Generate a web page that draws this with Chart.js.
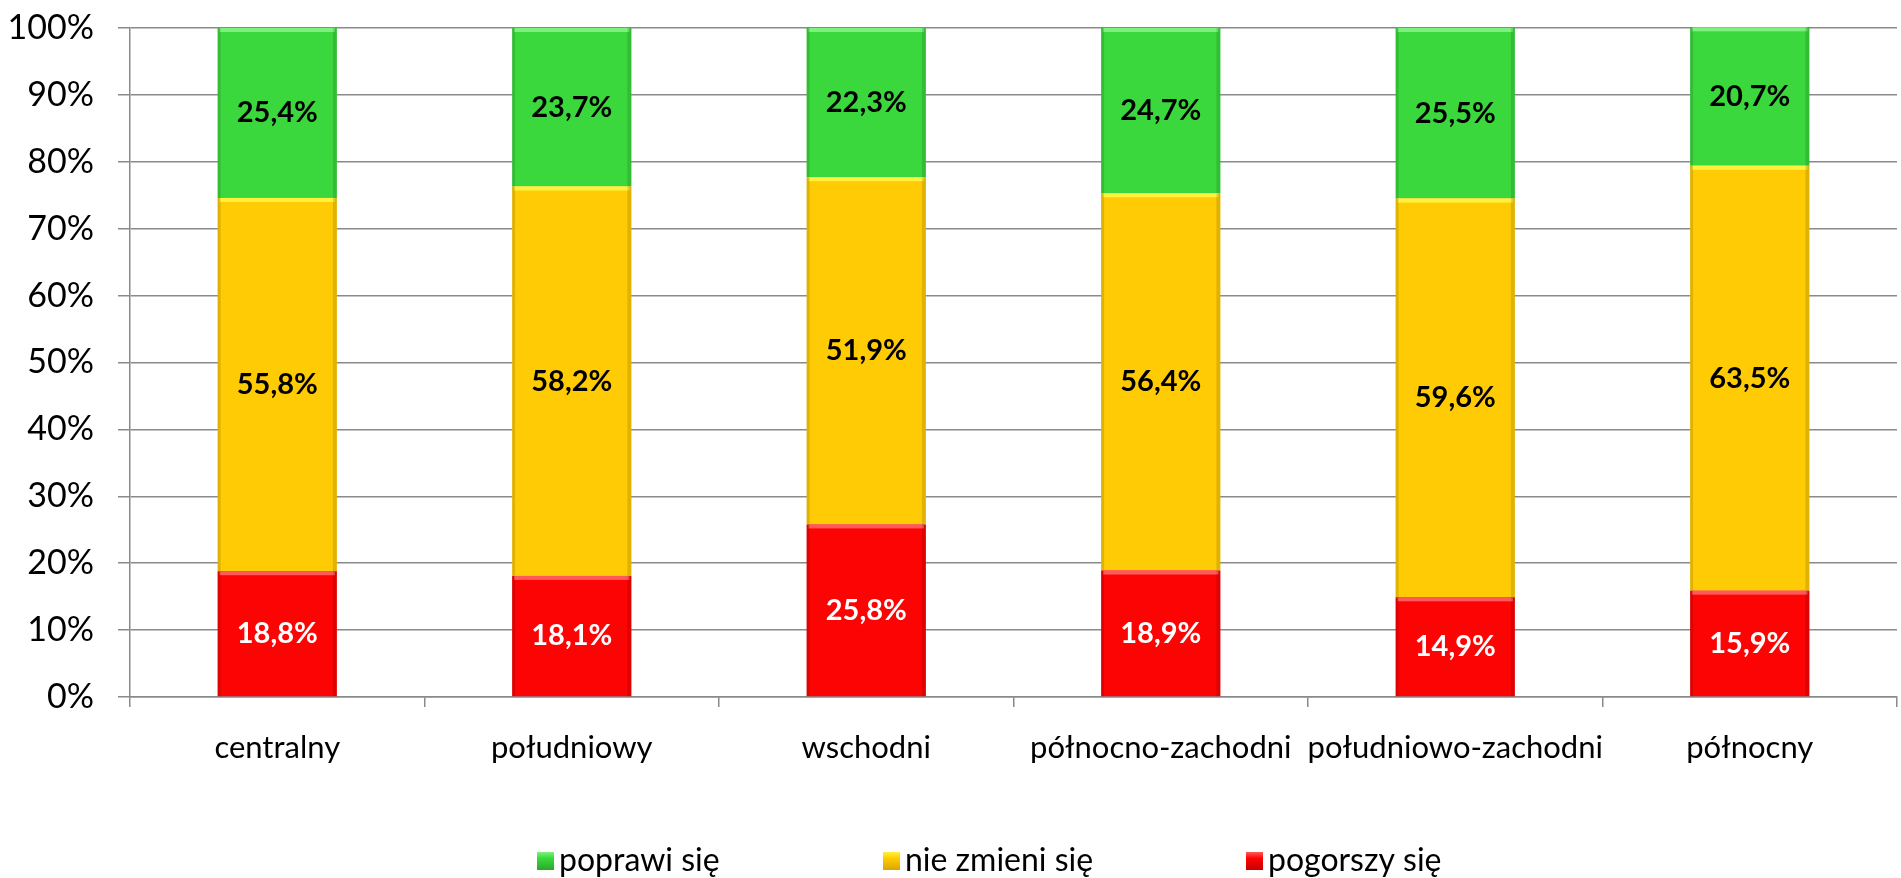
<!DOCTYPE html>
<html>
<head>
<meta charset="utf-8">
<script src="https://cdn.jsdelivr.net/npm/chart.js@4.4.1/dist/chart.umd.min.js"></script>
<style>
  html, body { margin: 0; padding: 0; background: #fff; }
  #wrap { width: 1901px; height: 878px; }
</style>
</head>
<body>
<div id="wrap"><canvas id="chart" width="1901" height="878"></canvas></div>
<script>
// regions and shares (%)
const regions = ['centralny', 'południowy', 'wschodni', 'północno-zachodni', 'południowo-zachodni', 'północny'];
const pogorszy = [18.8, 18.1, 25.8, 18.9, 14.9, 15.9];
const nieZmieni = [55.8, 58.2, 51.9, 56.4, 59.6, 63.5];
const poprawi = [25.4, 23.7, 22.3, 24.7, 25.5, 20.7];
const yTicks = [0, 10, 20, 30, 40, 50, 60, 70, 80, 90, 100];

const FONT = 'Lato, "Open Sans", sans-serif';

// value labels centred in each segment
const segmentLabels = {
    id: 'segmentLabels',
    afterDatasetsDraw(chart) {
        const ctx = chart.ctx;
        ctx.save();
        ctx.font = 'bold 29px ' + FONT;
        ctx.textAlign = 'center';
        ctx.textBaseline = 'middle';
        chart.data.datasets.forEach((ds, i) => {
            const meta = chart.getDatasetMeta(i);
            meta.data.forEach((bar, j) => {
                const y = (bar.y + bar.base) / 2;
                ctx.fillStyle = ds.labelColor;
                ctx.fillText(ds.data[j].toFixed(1).replace('.', ',') + '%', bar.x, y);
            });
        });
        ctx.restore();
    }
};

// legend drawn by hand so the item spacing matches
const legendSlots = [537, 883, 1246];
const bottomLegend = {
    id: 'bottomLegend',
    afterDraw(chart) {
        const ctx = chart.ctx;
        ctx.save();
        ctx.font = '32px ' + FONT;
        ctx.textBaseline = 'middle';
        const y = 861;
        const order = [2, 1, 0];
        order.forEach((i, k) => {
            const ds = chart.data.datasets[i];
            const x = legendSlots[k];
            const g = ctx.createLinearGradient(0, y - 9, 0, y + 9);
            g.addColorStop(0, ds.lightColor);
            g.addColorStop(0.35, ds.backgroundColor);
            g.addColorStop(1, ds.borderColor);
            ctx.fillStyle = g;
            ctx.fillRect(x, y - 9, 17, 18);
            ctx.fillStyle = '#000';
            ctx.fillText(ds.label, x + 22, y);
        });
        ctx.restore();
    }
};

// a little bevel on each bar
const bevel = {
    id: 'bevel',
    afterDatasetsDraw(chart) {
        const ctx = chart.ctx;
        ctx.save();
        chart.data.datasets.forEach((ds, i) => {
            chart.getDatasetMeta(i).data.forEach(bar => {
                const l = bar.x - bar.width / 2, r = bar.x + bar.width / 2;
                const t = Math.min(bar.y, bar.base), b = Math.max(bar.y, bar.base);
                ctx.fillStyle = ds.lightColor;
                ctx.fillRect(l + 2, t, r - l - 4, 4);
                ctx.fillStyle = 'rgba(0,0,0,0.12)';
                ctx.fillRect(r - 4, t, 4, b - t);
                ctx.fillRect(l, t, 3, b - t);
            });
        });
        ctx.restore();
    }
};

new Chart(document.getElementById('chart'), {
    type: 'bar',
    data: {
        labels: regions,
        datasets: [{
            label: 'pogorszy się',
            data: pogorszy,
            backgroundColor: '#fc0404',
            borderColor: '#c80000',
            lightColor: '#ff5a5a',
            labelColor: '#fff'
        }, {
            label: 'nie zmieni się',
            data: nieZmieni,
            backgroundColor: '#ffcb05',
            borderColor: '#d9a600',
            lightColor: '#fff23c',
            labelColor: '#000'
        }, {
            label: 'poprawi się',
            data: poprawi,
            backgroundColor: '#3bd83d',
            borderColor: '#2aa82a',
            lightColor: '#7ef07e',
            labelColor: '#000'
        }]
    },
    options: {
        responsive: false,
        animation: false,
        events: [],
        layout: { padding: { top: 28, right: 4, bottom: 60, left: 0 } },
        datasets: {
            bar: {
                barPercentage: 0.405,
                categoryPercentage: 1,
                borderWidth: 0
            }
        },
        scales: {
            x: {
                stacked: true,
                grid: {
                    offset: true,
                    drawOnChartArea: false,
                    drawTicks: true,
                    tickLength: 10,
                    color: '#8a8a8a',
                    lineWidth: 1.5
                },
                border: { color: '#8a8a8a', width: 1.5 },
                ticks: {
                    color: '#000',
                    font: { family: FONT, size: 31 },
                    padding: 22,
                    maxRotation: 0,
                    autoSkip: false
                },
                afterFit(scale) {
                    scale.height = 121;
                    scale.paddingLeft = 0;
                    scale.paddingRight = 0;
                }
            },
            y: {
                stacked: true,
                min: 0,
                max: 100,
                afterBuildTicks(scale) { scale.ticks = yTicks.map(v => ({ value: v })); },
                grid: {
                    color: '#8a8a8a',
                    lineWidth: 1.5,
                    tickLength: 12
                },
                border: { color: '#8a8a8a', width: 1.5 },
                ticks: {
                    color: '#000',
                    font: { family: FONT, size: 34 },
                    padding: 24,
                    callback: v => v + '%'
                },
                afterFit(scale) {
                    scale.width = 130;
                    scale.paddingTop = 0;
                    scale.paddingBottom = 0;
                }
            }
        },
        plugins: {
            legend: { display: false },
            tooltip: { enabled: false }
        }
    },
    plugins: [bevel, segmentLabels, bottomLegend]
});
</script>
</body>
</html>
